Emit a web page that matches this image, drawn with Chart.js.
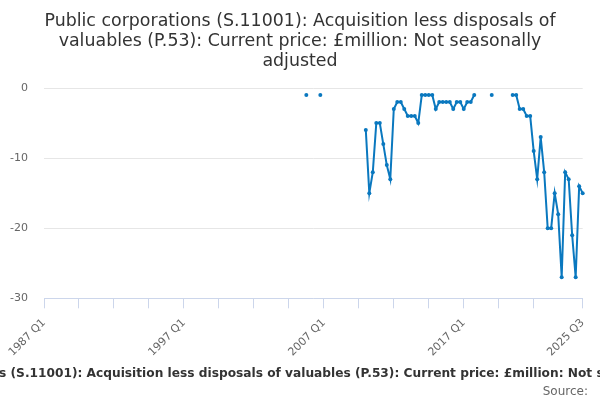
<!DOCTYPE html>
<html>
<head>
<meta charset="utf-8">
<title>Public corporations: acquisition less disposals of valuables</title>
<script src="https://cdn.jsdelivr.net/npm/chart.js@4"></script>
<style>
  body { margin: 0; background: #fff; }
  #wrap { position: relative; width: 600px; height: 400px; overflow: hidden; }
  #title {
    position: absolute; left: 0; right: 0; top: 10px;
    text-align: center; line-height: 21.5px;
    font: 17.4px "DejaVu Sans", sans-serif; color: #333;
  }
  #legend {
    position: absolute; left: 303px; top: 366px;
    transform: translateX(-50%);
    white-space: nowrap; line-height: 16px;
    font: bold 12.2px "DejaVu Sans", sans-serif; color: #333;
  }
  #source {
    position: absolute; right: 12px; top: 384px; line-height: 16px;
    font: 12px "DejaVu Sans", sans-serif; color: #666;
  }
</style>
</head>
<body>
<div id="wrap">
  <canvas id="chart"></canvas>
  <div id="title"></div>
  <div id="legend"></div>
  <div id="source">Source:</div>
</div>
<script>
/* data */
const seriesName = "Public corporations (S.11001): Acquisition less disposals of valuables (P.53): Current price: £million: Not seasonally adjusted";
const titleLines = [
  "Public corporations (S.11001): Acquisition less disposals of",
  "valuables (P.53): Current price: £million: Not seasonally",
  "adjusted"
];
const firstYear = 1987;
const lastYear = 2025;
const lastQuarter = 3;
const yTicks = [0, -10, -20, -30];

// 1987 Q1 .. 2005 Q3 have no values
const leadingGap = 75;
// 2005 Q4 .. 2025 Q3
const values = [
  -1, null, null, null,                                    // 2005 Q4 - 2006 Q3
  -1, null, null, null,                                    // 2006 Q4 - 2007 Q3
  null, null, null, null, null, null, null, null,          // 2007 Q4 - 2009 Q3
  null,                                                    // 2009 Q4
  -6, -15, -12, -5, -5, -8, -11, -13,                      // 2010 Q1 - 2011 Q4
  -3, -2, -2, -3, -4, -4, -4, -5,                          // 2012 Q1 - 2013 Q4
  -1, -1, -1, -1, -3, -2, -2, -2,                          // 2014 Q1 - 2015 Q4
  -2, -3, -2, -2, -3, -2, -2, -1,                          // 2016 Q1 - 2017 Q4
  null, null, null, null, -1, null, null, null,            // 2018 Q1 - 2019 Q4
  null, null, -1, -1, -3, -3, -4, -4,                      // 2020 Q1 - 2021 Q4
  -9, -13, -7, -12, -20, -20, -15, -18,                    // 2022 Q1 - 2023 Q4
  -27, -12, -13, -21, -27, -14, -15                        // 2024 Q1 - 2025 Q3
];

const quarters = [];
for (let y = firstYear; y <= lastYear; y++) {
  for (let q = 1; q <= 4; q++) {
    if (y === lastYear && q > lastQuarter) break;
    quarters.push(y + " Q" + q);
  }
}
const data = new Array(leadingGap).fill(null).concat(values);
const lastIdx = quarters.length - 1;

const titleEl = document.getElementById("title");
titleLines.forEach(line => {
  const d = document.createElement("div");
  d.textContent = line;
  titleEl.appendChild(d);
});
document.getElementById("legend").textContent = seriesName;

const ctx = document.getElementById("chart");
const blue = "#0a78bf";

Chart.defaults.font.family = "DejaVu Sans";
Chart.defaults.color = "#666";

new Chart(ctx, {
  type: "line",
  data: {
    labels: quarters,
    datasets: [
      {
        label: seriesName,
        data: data,
        borderColor: blue,
        backgroundColor: blue,
        borderWidth: 2,
        pointRadius: 2,
        pointHoverRadius: 3,
        pointBorderWidth: 0,
        spanGaps: false,
        tension: 0,
      },
    ],
  },
  options: {
    responsive: true,
    maintainAspectRatio: false,
    animation: false,
    layout: {
      padding: { left: 0, right: 17, top: 88, bottom: 33 },
    },
    plugins: {
      legend: { display: false },
      tooltip: { enabled: false },
    },
    scales: {
      x: {
        ticks: {
          autoSkip: false,
          maxRotation: 45,
          minRotation: 45,
          padding: 8,
          font: { size: 11 },
          color: "#666",
          callback: function (val, idx) {
            if (idx % 40 === 0 || idx === lastIdx) return quarters[idx];
            return "";
          },
        },
        grid: {
          drawOnChartArea: false,
          drawTicks: true,
          tickLength: 10,
          color: function (c) {
            const i = c.index;
            if (i === lastIdx || (i % 10 === 0 && i < 150)) return "#ccd6eb";
            return "rgba(0,0,0,0)";
          },
        },
        border: { color: "#ccd6eb", width: 1 },
      },
      y: {
        min: -30,
        max: 0,
        afterBuildTicks: function (axis) {
          axis.ticks = yTicks.map(v => ({ value: v }));
        },
        afterFit: function (axis) {
          axis.width = 44;
        },
        ticks: {
          padding: 16,
          font: { size: 11 },
          color: "#666",
        },
        grid: {
          color: "#e6e6e6",
          drawTicks: false,
        },
        border: { display: false },
      },
    },
  },
});
</script>
</body>
</html>
